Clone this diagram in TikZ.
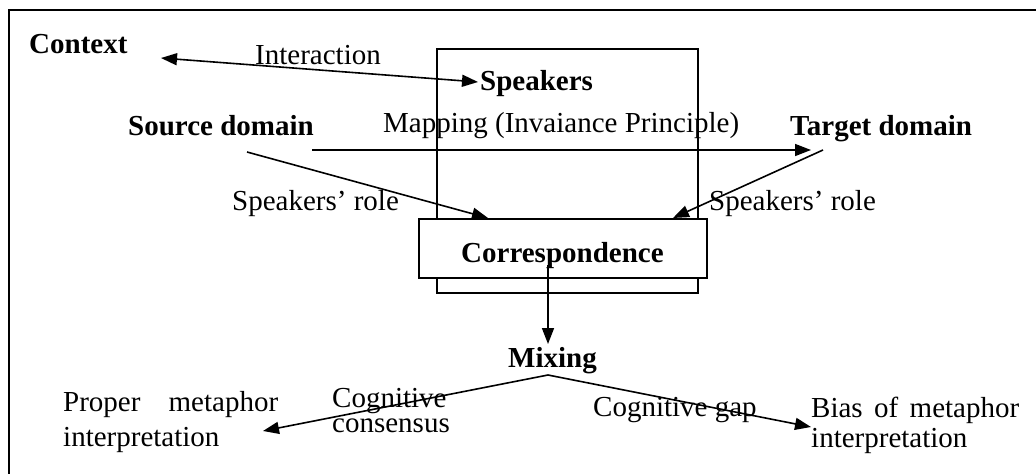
\documentclass[tikz,border=0pt]{standalone}
\usepackage{fontspec}
\setmainfont{Liberation Serif}
\usetikzlibrary{arrows.meta}
\begin{document}
\begin{tikzpicture}[x=1pt,y=-1pt,
  lbl/.style={inner sep=0pt,anchor=base west,font=\fontsize{29pt}{33pt}\selectfont},
  blbl/.style={lbl,font=\fontsize{29pt}{33pt}\selectfont\bfseries},
  tip/.style={Triangle[length=16pt,width=12pt]},
  arr/.style={line width=1.6pt,-{Triangle[length=16pt,width=12pt]}},
  darr/.style={line width=1.6pt,{Triangle[length=16pt,width=12pt]}-{Triangle[length=16pt,width=12pt]}},
  box/.style={draw,line width=1.6pt,inner sep=0pt,anchor=north west}]
\useasboundingbox (0,0) rectangle (1036,474);
% frame (cut off at right and bottom)
\draw[line width=1.6pt] (1036,10) -- (9,10) -- (9,474);
% boxes
\node[box,minimum width=261pt,minimum height=244pt] (spkbox) at (436,48) {};
\node[box,fill=white,minimum width=288pt,minimum height=59pt] (corrbox) at (418,218) {};
% texts
\node[blbl] (context) at (29,53) {Context};
\node[lbl] (interaction) at (255,64) {Interaction};
\node[blbl] (speakers) at (480,90) {Speakers};
\node[blbl] (source) at (128,135) {Source domain};
\node[lbl] (mapping) at (383,132) {Mapping (Invaiance Principle)};
\node[blbl] (target) at (790,135) {Target domain};
\node[lbl] (roleL) at (232,210) {Speakers’ role};
\node[lbl] (roleR) at (709,210) {Speakers’ role};
\node[blbl] (corr) at (461,262) {Correspondence};
\node[blbl] (mixing) at (508,367) {Mixing};
\node[lbl] (cons1) at (332,407) {Cognitive};
\node[lbl] (cons2) at (332,432) {consensus};
\node[lbl] (proper1) at (63,411) {\makebox[215pt][s]{Proper metaphor}};
\node[lbl] (proper2) at (63,446) {interpretation};
\node[lbl] (gap) at (593,416) {Cognitive gap};
\node[lbl] (bias1) at (811,417) {\makebox[208pt][s]{Bias of metaphor}};
\node[lbl] (bias2) at (811,447) {interpretation};
% connector end points
\coordinate (ctxE) at (161,58);
\coordinate (spkW) at (478,82);
\coordinate (srcS) at (312,150);
\coordinate (tgtW) at (811,150);
\coordinate (srcSE) at (247,152);
\coordinate (corrNW) at (488,218);
\coordinate (tgtSW) at (823,150);
\coordinate (corrNE) at (673,218);
\coordinate (corrIn) at (548,265);
\coordinate (mixN) at (548,344);
\coordinate (mixS) at (548,375);
\coordinate (properE) at (263,431);
\coordinate (biasW) at (811,427);
% connectors
\draw[darr] (ctxE) -- (spkW);
\draw[arr] (srcS) -- (tgtW);
\draw[arr] (srcSE) -- (corrNW);
\draw[arr] (tgtSW) -- (corrNE);
\draw[arr] (corrIn) -- (mixN);
\draw[arr] (mixS) -- (properE);
\draw[arr] (mixS) -- (biasW);
\end{tikzpicture}
\end{document}
